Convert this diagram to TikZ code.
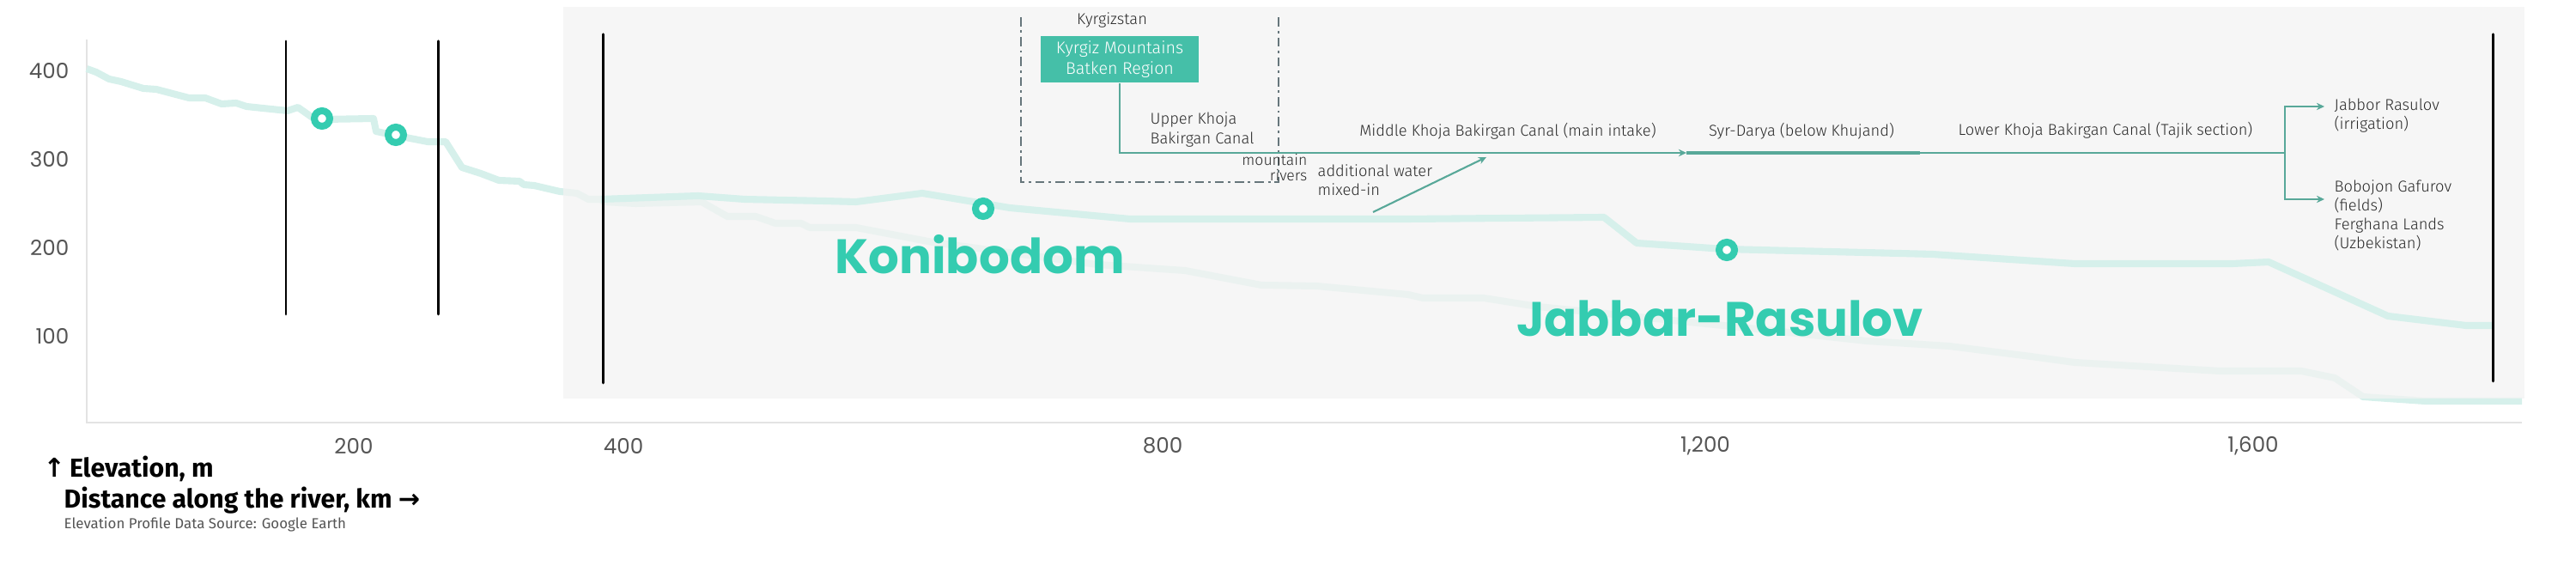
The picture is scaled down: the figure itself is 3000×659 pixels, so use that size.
\documentclass[tikz,border=0pt]{standalone}
\usepackage{fontspec}
\setmainfont{Fira Sans}
\newfontfamily\popfont{Poppins}
\newfontfamily\lightfont{Fira Sans Light}
\newfontfamily\symfont{DejaVu Sans}
\usetikzlibrary{arrows.meta}
\definecolor{prof}{HTML}{D6F0EB}
\definecolor{mark}{HTML}{34CCB0}
\definecolor{canal}{HTML}{58A899}
\definecolor{boxfill}{HTML}{45BFA8}
\definecolor{axisgray}{HTML}{E3E3E3}
\definecolor{panelgray}{HTML}{F3F3F3}
\definecolor{dashgray}{HTML}{66767B}
\definecolor{ticktext}{HTML}{555555}
\definecolor{anntext}{HTML}{2A2A2A}
\begin{document}
\begin{tikzpicture}[x=0.01cm,y=-0.01cm,
  profile/.style={line width=2.3pt, draw=prof, line join=round},
  divider/.style={line width=0.85pt, draw=black, line cap=round},
  axisline/.style={line width=0.7pt, draw=axisgray},
  site/.style={circle, draw=mark, fill=white, line width=2.3pt, minimum size=5.1pt, inner sep=0pt},
  tick/.style={font=\popfont\fontsize{7}{8}\selectfont, text=ticktext, inner sep=0pt},
  big/.style={font=\popfont\bfseries\fontsize{16}{18}\selectfont, text=mark, inner sep=0pt},
  axtitle/.style={font=\bfseries\fontsize{8.6}{10}\selectfont, text=black, inner sep=0pt, anchor=west},
  ann/.style={font=\lightfont\fontsize{5.2}{6.26}\selectfont, text=anntext, inner sep=0pt},
  boxnode/.style={fill=boxfill, text=white, font=\lightfont\fontsize{5.6}{6.8}\selectfont, align=center, minimum width=52.35pt, minimum height=15.4pt, inner sep=0pt},
  canalline/.style={draw=canal, line width=0.6pt},
  canaltip/.style={-{Stealth[length=2.6pt,width=2.4pt]}},
  bracket/.style={draw=dashgray, line width=0.7pt, dash pattern=on 3pt off 1.4pt on 0.8pt off 1.4pt}
]
\useasboundingbox (0,0) rectangle (3000,659);
% axes
\draw[axisline] (101,46) -- (101,492) -- (2937,492);
% base profile (full river)
\draw[profile] (101,80) -- (112,84) -- (127,92) -- (141,95) -- (167,103) -- (182,104) -- (201,109) -- (220,114) -- (239,114) -- (258,121) -- (275,120) -- (287,124) -- (306,126) -- (335,129) -- (347,125) -- (364,137) -- (378,139) -- (435,138) -- (438,153) -- (462,158) -- (498,165) -- (519,165) -- (538,195) -- (560,202) -- (581,210) -- (605,211) -- (610,215) -- (622,216) -- (652,223) -- (672,225) -- (685,232) -- (700,232) -- (703,235) -- (740,237) -- (817,235) -- (847,252) -- (880,252) -- (903,260) -- (933,260) -- (943,265) -- (997,265) -- (1086,282) -- (1278,308) -- (1380,315) -- (1469,332) -- (1533,333) -- (1640,343) -- (1657,347) -- (1728,347) -- (1791,357) -- (2046,383) -- (2174,397) -- (2270,403) -- (2365,415) -- (2416,422) -- (2585,432) -- (2680,432) -- (2719,440) -- (2752,462) -- (2824,467) -- (2937,467);
% zoom panel
\fill[panelgray, fill opacity=0.74] (656,8) rectangle (2940,464);
% upper profile in panel
\draw[profile] (700,232) -- (813,228) -- (867,232) -- (960,234) -- (997,235) -- (1074,225) -- (1176,242) -- (1316,255) -- (1640,255) -- (1868,253) -- (1906,283) -- (2008,290) -- (2212,295) -- (2250,296) -- (2416,307) -- (2600,307) -- (2642,305) -- (2781,368) -- (2872,379) -- (2903,379);
% dividers
\draw[divider] (333,48) -- (333,366);
\draw[divider] (510,48) -- (510,366);
\draw[divider] (702,40) -- (702,446);
\draw[divider] (2903,40) -- (2903,444);
% sites
\node[site] (s1) at (375,138) {};
\node[site] (s2) at (461,157) {};
\node[site] (s3) at (1145,243) {};
\node[site] (s4) at (2011,291) {};
\node[big, anchor=base] (koni) at (1141,319) {Konibodom};
\node[big, anchor=base] (jabbar) at (2003,392) {Jabbar-Rasulov};
% tick labels
\node[tick, anchor=east] (y400) at (81,82) {400};
\node[tick, anchor=east] (y300) at (81,186) {300};
\node[tick, anchor=east] (y200) at (81,288) {200};
\node[tick, anchor=east] (y100) at (81,391) {100};
\node[tick] (x200) at (412,519) {200};
\node[tick] (x400) at (726,519) {400};
\node[tick] (x800) at (1354,519) {800};
\node[tick] (x1200) at (1986,519) {1,200};
\node[tick] (x1600) at (2624,519) {1,600};
% axis titles
\node[axtitle] (elev) at (50,546) {{\symfont ↑}\,Elevation, m};
\node[axtitle] (dist) at (74,583) {Distance along the river, km {\symfont →}};
\node[anchor=west, inner sep=0pt, text=ticktext, font=\fontsize{4.8}{6}\selectfont] (src) at (74,611) {Elevation Profile Data Source: Google Earth};
% Kyrgyz bracket
\draw[bracket] (1189,20) -- (1189,212) -- (1489,212) -- (1489,20);
\node[ann] (kyr) at (1295,24) {Kyrgizstan};
\node[boxnode] (box) at (1304,69) {Kyrgiz Mountains\\Batken Region};
% canal annotations
\node[ann, anchor=west, align=left] (upper) at (1339,151) {Upper Khoja\\Bakirgan Canal};
\node[ann, anchor=east, align=right, font=\lightfont\fontsize{5.0}{5.0}\selectfont] (mtn) at (1523,195) {mountain\\rivers};
\node[ann, anchor=west, align=left] (addw) at (1534,210) {additional water\\mixed-in};
\node[ann] (middle) at (1756,153) {Middle Khoja Bakirgan Canal (main intake)};
\node[ann] (syr) at (2098,153) {Syr-Darya (below Khujand)};
\node[ann] (lower) at (2452,152) {Lower Khoja Bakirgan Canal (Tajik section)};
\node[ann, anchor=west, align=left] (jab) at (2718,135) {Jabbor Rasulov\\(irrigation)};
\node[ann, anchor=west, align=left] (bob) at (2718,251) {Bobojon Gafurov\\(fields)\\Ferghana Lands\\(Uzbekistan)};
% canal connectors
\coordinate (syrA) at (1964,178);
\coordinate (syrB) at (2236,178);
\coordinate (split) at (2661,178);
\coordinate (jtip) at (2707,124);
\coordinate (btip) at (2707,232);
\coordinate (mixA) at (1599,247);
\coordinate (mixB) at (1731,183);
\draw[canalline, canaltip] (box.south) |- (syrA);
\draw[draw=canal, line width=1.3pt] (syrA) -- (syrB);
\draw[canalline] (syrB) -- (split);
\draw[canalline, canaltip] (split) |- (jtip);
\draw[canalline, canaltip] (split) |- (btip);
\draw[canalline, canaltip] (mixA) -- (mixB);
\end{tikzpicture}
\end{document}
